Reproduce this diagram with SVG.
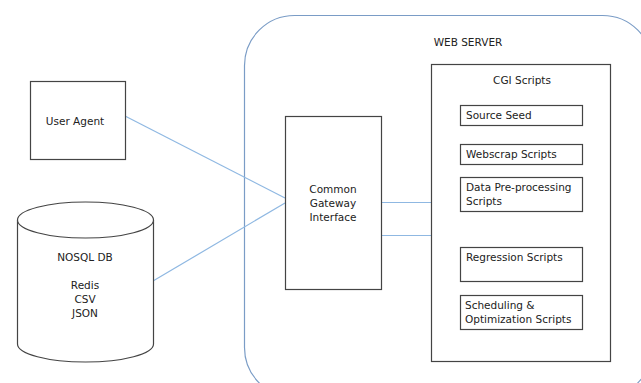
<svg xmlns="http://www.w3.org/2000/svg" width="641" height="383" viewBox="0 0 641 383">
<style>
.box{fill:#fff;stroke:#444;stroke-width:1.2}
.t{font-family:"DejaVu Sans",sans-serif;font-size:10.5px;fill:#222}
.c{text-anchor:middle}
.conn{stroke:#8fb8e2;stroke-width:1.2;fill:none}
</style>
<rect width="641" height="383" fill="#fff"/>
<g id="web-server">
<rect x="244.5" y="15.5" width="408" height="382" rx="50" ry="50" fill="none" stroke="#7a9cc6" stroke-width="1.2"/>
<text class="t c" x="468" y="46">WEB SERVER</text>
</g>
<g id="connectors">
<line class="conn" x1="125" y1="116" x2="285" y2="198"/>
<line class="conn" x1="153" y1="281" x2="285" y2="203"/>
<line class="conn" x1="382" y1="202.5" x2="431" y2="202.5"/>
<line class="conn" x1="381" y1="235.5" x2="432" y2="235.5"/>
</g>
<g id="user-agent">
<rect class="box" x="30.5" y="81.5" width="95" height="78"/>
<text class="t c" x="75" y="125">User Agent</text>
</g>
<g id="nosql-db">
<path class="box" d="M17.5,220 L17.5,344 A68,18 0 0 0 153.5,344 L153.5,220"/>
<ellipse class="box" cx="85.5" cy="220" rx="68" ry="18"/>
<text class="t c" x="85" y="261">NOSQL DB</text>
<text class="t c" x="85" y="289">Redis</text>
<text class="t c" x="85" y="303">CSV</text>
<text class="t c" x="85" y="317">JSON</text>
</g>
<g id="cgi">
<rect class="box" x="285.5" y="116.5" width="96" height="173"/>
<text class="t c" x="333" y="193">Common</text>
<text class="t c" x="333" y="207">Gateway</text>
<text class="t c" x="333" y="221">Interface</text>
</g>
<g id="cgi-scripts">
<rect class="box" x="431.5" y="64.5" width="179" height="297"/>
<text class="t c" x="522" y="84">CGI Scripts</text>
</g>
<g id="source-seed">
<rect class="box" x="460.5" y="105.5" width="122" height="20"/>
<text class="t" x="466" y="119">Source Seed</text>
</g>
<g id="webscrap">
<rect class="box" x="460.5" y="144.5" width="122" height="20"/>
<text class="t" x="466" y="158">Webscrap Scripts</text>
</g>
<g id="data-preprocessing">
<rect class="box" x="460.5" y="177.5" width="122" height="34"/>
<text class="t" x="466" y="191">Data Pre-processing</text>
<text class="t" x="466" y="205">Scripts</text>
</g>
<g id="regression">
<rect class="box" x="460.5" y="247.5" width="122" height="34"/>
<text class="t" x="466" y="261">Regression Scripts</text>
</g>
<g id="scheduling">
<rect class="box" x="460.5" y="295.5" width="122" height="34"/>
<text class="t" x="465" y="309">Scheduling &amp;</text>
<text class="t" x="465" y="323">Optimization Scripts</text>
</g>
</svg>
